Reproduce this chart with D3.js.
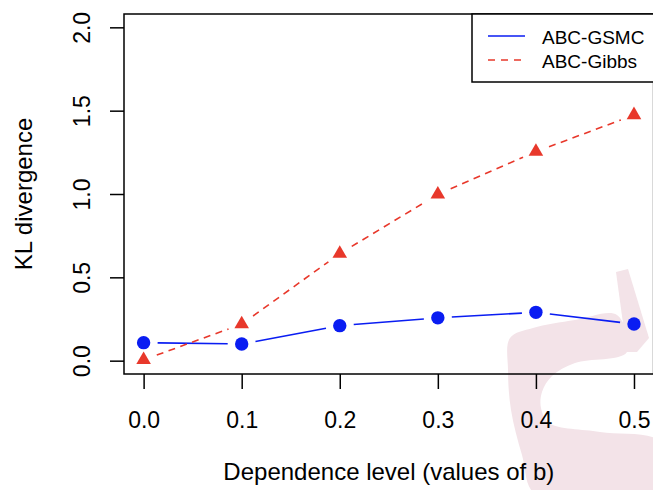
<!DOCTYPE html>
<html>
<head>
<meta charset="utf-8">
<script src="https://cdn.jsdelivr.net/npm/d3@7"></script>
<style>
  html, body { margin: 0; padding: 0; background: #fff; }
  #chart { width: 653px; height: 490px; overflow: hidden; }
  text { font-family: "Liberation Sans", Arial, Helvetica, sans-serif; fill: #000; }
</style>
</head>
<body>
<div id="chart"></div>
<script>
// Dados
const levels = [0.0, 0.1, 0.2, 0.3, 0.4, 0.5];
const gsmc = [0.108, 0.100, 0.210, 0.257, 0.290, 0.220];
const gibbs = [0.005, 0.219, 0.642, 0.998, 1.254, 1.474];
const xTicks = [0.0, 0.1, 0.2, 0.3, 0.4, 0.5];
const yTicks = [0.0, 0.5, 1.0, 1.5, 2.0];
const seriesNames = ['ABC-GSMC', 'ABC-Gibbs'];

document.addEventListener('DOMContentLoaded', function() {
    const width = 653;
    const height = 490;
    const margin = { left: 124, top: 14, right: 653.6, bottom: 374 };

    const svg = d3.select('#chart')
        .append('svg')
        .attr('width', width)
        .attr('height', height)
        .attr('viewBox', [0, 0, width, height]);

    // Escalas (domínio estendido 4% como no R)
    const x = d3.scaleLinear().domain([-0.02, 0.52]).range([margin.left, margin.right]);
    const y = d3.scaleLinear().domain([-0.08, 2.08]).range([margin.bottom, margin.top]);

    // Marca d'água rosa no canto inferior direito
    const wm = svg.append('g').attr('fill', '#f3e3e8');
    wm.append('path')
        .attr('d', d3.line().curve(d3.curveLinearClosed)([
            [616, 272], [628, 269], [649, 338], [637, 352], [627, 352], [622, 316]
        ]));
    const curvePts = [
        [510, 338], [533, 328], [575, 320], [617, 315], [627, 352],
        [575, 363], [552, 376], [542, 392], [541, 408], [549, 423],
        [600, 432], [660, 442], [660, 495], [536, 495], [522, 455], [511, 410], [508, 370]
    ];
    wm.append('path')
        .attr('d', d3.line().curve(d3.curveCatmullRomClosed.alpha(0.5))(curvePts));

    // Caixa do gráfico
    svg.append('rect')
        .attr('x', margin.left)
        .attr('y', margin.top)
        .attr('width', margin.right - margin.left)
        .attr('height', margin.bottom - margin.top)
        .attr('fill', 'none')
        .attr('stroke', '#000')
        .attr('stroke-width', 1.5);

    // Eixo X
    const xAxis = svg.append('g')
        .attr('transform', `translate(0,${margin.bottom})`)
        .call(d3.axisBottom(x).tickValues(xTicks).tickSize(15).tickSizeOuter(0).tickPadding(39).tickFormat(d3.format('.1f')));
    xAxis.select('.domain').remove();
    xAxis.selectAll('line').attr('stroke-width', 1.5);
    xAxis.selectAll('text').attr('font-size', '23px').attr('font-family', null).attr('dy', null);

    // Eixo Y (rótulos rodados)
    const yAxis = svg.append('g')
        .attr('transform', `translate(${margin.left},0)`)
        .call(d3.axisLeft(y).tickValues(yTicks).tickSize(14).tickSizeOuter(0).tickFormat(d3.format('.1f')));
    yAxis.select('.domain').remove();
    yAxis.selectAll('line').attr('stroke-width', 1.5);
    yAxis.selectAll('text')
        .attr('font-size', '23px')
        .attr('font-family', null)
        .attr('x', null).attr('dy', null)
        .attr('text-anchor', 'middle')
        .attr('transform', 'translate(-34,0) rotate(-90)');

    // Títulos dos eixos
    svg.append('text')
        .attr('x', (margin.left + margin.right) / 2)
        .attr('y', 480)
        .attr('text-anchor', 'middle')
        .attr('font-size', '24px')
        .text('Dependence level (values of b)');

    svg.append('text')
        .attr('transform', `translate(32,${(margin.top + margin.bottom) / 2}) rotate(-90)`)
        .attr('text-anchor', 'middle')
        .attr('font-size', '24px')
        .text('KL divergence');

    // Segmentos com espaços em volta dos pontos (type = "b")
    const gap = 14;
    function drawSegments(vals, color, dash) {
        const pts = levels.map((l, i) => [x(l), y(vals[i])]);
        const g = svg.append('g');
        for (let i = 0; i < pts.length - 1; i++) {
            const [x1, y1] = pts[i];
            const [x2, y2] = pts[i + 1];
            const len = Math.hypot(x2 - x1, y2 - y1);
            if (len <= 2 * gap) continue;
            const ux = (x2 - x1) / len, uy = (y2 - y1) / len;
            g.append('line')
                .attr('x1', x1 + ux * gap).attr('y1', y1 + uy * gap)
                .attr('x2', x2 - ux * gap).attr('y2', y2 - uy * gap)
                .attr('stroke', color)
                .attr('stroke-width', 1.6)
                .attr('stroke-dasharray', dash);
        }
    }

    const blue = '#0a1df2';
    const red = '#e8382b';

    drawSegments(gsmc, blue, null);
    drawSegments(gibbs, red, '7,5.5');

    // Pontos
    svg.append('g')
        .selectAll('circle')
        .data(levels)
        .enter()
        .append('circle')
        .attr('cx', d => x(d))
        .attr('cy', (d, i) => y(gsmc[i]))
        .attr('r', 6.7)
        .attr('fill', blue);

    const tri = d3.symbol().type(d3.symbolTriangle).size(92);
    svg.append('g')
        .selectAll('path')
        .data(levels)
        .enter()
        .append('path')
        .attr('d', tri)
        .attr('transform', (d, i) => `translate(${x(d)},${y(gibbs[i])})`)
        .attr('fill', red);

    // Legenda
    const legend = svg.append('g');
    legend.append('rect')
        .attr('x', 472).attr('y', margin.top)
        .attr('width', 200).attr('height', 68)
        .attr('fill', '#fff')
        .attr('stroke', '#000')
        .attr('stroke-width', 1.5);

    const legendItems = [
        { name: seriesNames[0], color: blue, dash: null, y: 36 },
        { name: seriesNames[1], color: red, dash: '7,6', y: 60 }
    ];
    legendItems.forEach(item => {
        legend.append('line')
            .attr('x1', 488).attr('x2', 525)
            .attr('y1', item.y).attr('y2', item.y)
            .attr('stroke', item.color)
            .attr('stroke-width', 1.6)
            .attr('stroke-dasharray', item.dash);
        legend.append('text')
            .attr('x', 542)
            .attr('y', item.y + 7.5)
            .attr('font-size', '19px')
            .text(item.name);
    });
});
</script>
</body>
</html>
